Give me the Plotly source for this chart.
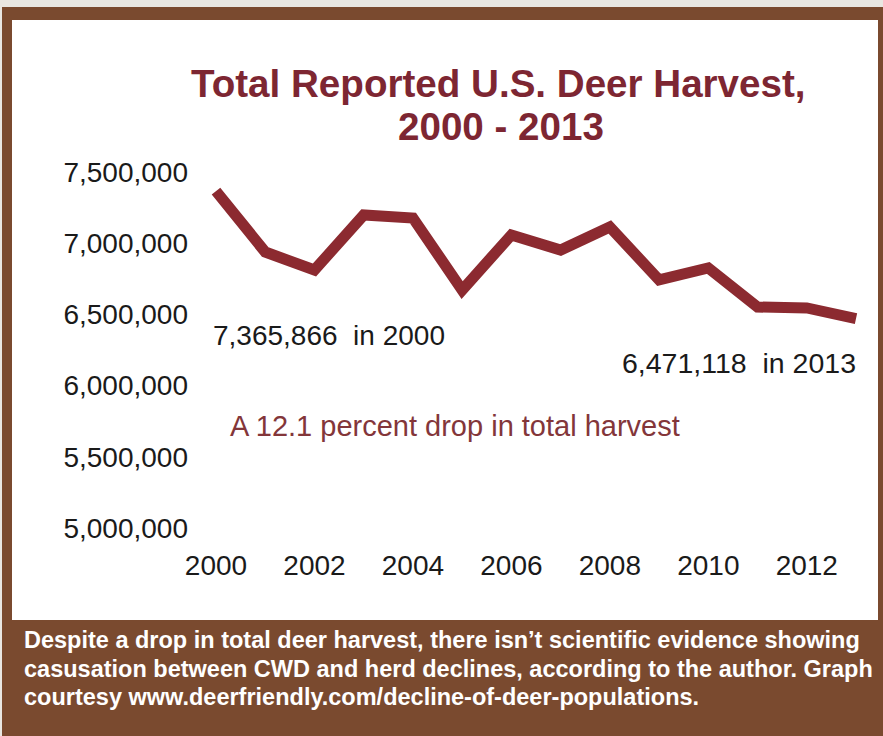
import plotly.graph_objects as go

# ---- data ----
years = list(range(2000, 2014))
harvest = [7365866, 6938000, 6812000, 7198000, 7177000, 6671000, 7058000,
           6952000, 7114000, 6742000, 6826000, 6552000, 6545000, 6471118]
x_ticks = [2000, 2002, 2004, 2006, 2008, 2010, 2012]
y_ticks = [5000000, 5500000, 6000000, 6500000, 7000000, 7500000]

title_line1 = "Total Reported U.S. Deer Harvest,"
title_line2 = "2000 - 2013"
note_start = "7,365,866\u00a0 in 2000"
note_end = "6,471,118\u00a0 in 2013"
note_drop = "A 12.1 percent drop in total harvest"
caption_lines = [
    "Despite a drop in total deer harvest, there isn\u2019t scientific evidence showing",
    "casusation between CWD and herd declines, according to the author. Graph",
    "courtesy www.deerfriendly.com/decline-of-deer-populations.",
]

# ---- layout geometry (pixels) ----
W, H = 883, 736
BROWN = "#7a4a2f"
LINE = "#8c2a30"
TITLE = "#7d2632"
FONT = "Liberation Sans, Arial, sans-serif"

def fx(px):
    return px / W

def fy(py):
    return 1 - py / H

# x: 2000 -> px 216, 2013 -> px 856 ; y: 7.5M -> py 172, 5.0M -> py 528
x_per_px = 13 / (856 - 216)
y_per_px = 2500000 / (528 - 172)
dom_x = (203, 866)
dom_y = (150, 540)
xr = [2000 - (216 - dom_x[0]) * x_per_px, 2013 + (dom_x[1] - 856) * x_per_px]
yr = [5000000 - (dom_y[1] - 528) * y_per_px, 7500000 + (172 - dom_y[0]) * y_per_px]

fig = go.Figure()
fig.add_trace(go.Scatter(
    x=years, y=harvest, mode="lines",
    line=dict(color=LINE, width=11),
    hoverinfo="x+y", showlegend=False,
))

shapes = [
    dict(type="rect", xref="paper", yref="paper", x0=0, x1=1, y0=fy(7), y1=1,
         fillcolor="#e9e7e2", line=dict(width=0), layer="below"),
    dict(type="rect", xref="paper", yref="paper", x0=0, x1=fx(2), y0=0, y1=1,
         fillcolor="#e9e7e2", line=dict(width=0), layer="below"),
    dict(type="rect", xref="paper", yref="paper", x0=fx(12), x1=fx(878),
         y0=fy(620), y1=fy(20), fillcolor="white", line=dict(width=0), layer="below"),
]

annotations = [
    dict(text=title_line1, x=fx(498), y=fy(83), xanchor="center", yanchor="middle",
         font=dict(family=FONT, size=38.6, color=TITLE, weight="bold")),
    dict(text=title_line2, x=fx(501), y=fy(127), xanchor="center", yanchor="middle",
         font=dict(family=FONT, size=38.6, color=TITLE, weight="bold")),
    dict(text=note_start, x=fx(211), y=fy(335), xanchor="left", yanchor="middle",
         font=dict(family=FONT, size=28, color="#1a1a1a")),
    dict(text=note_end, x=fx(858), y=fy(363), xanchor="right", yanchor="middle",
         font=dict(family=FONT, size=28.5, color="#1a1a1a")),
    dict(text=note_drop, x=fx(228), y=fy(426), xanchor="left", yanchor="middle",
         font=dict(family=FONT, size=29, color="#83363a")),
]
for i, line in enumerate(caption_lines):
    annotations.append(dict(
        text=line, x=fx(22), y=fy(640 + i * 28.5), xanchor="left", yanchor="middle",
        font=dict(family=FONT, size=23.5, color="white", weight="bold")))
for a in annotations:
    a.update(xref="paper", yref="paper", showarrow=False)

fig.update_layout(
    width=W, height=H,
    margin=dict(l=0, r=0, t=0, b=0, autoexpand=False),
    paper_bgcolor=BROWN, plot_bgcolor="rgba(0,0,0,0)",
    shapes=shapes, annotations=annotations,
    xaxis=dict(domain=[fx(dom_x[0]), fx(dom_x[1])], range=xr, automargin=False,
               tickvals=x_ticks, showgrid=False, zeroline=False, showline=False,
               ticks="", ticklabelstandoff=6,
               tickfont=dict(family=FONT, size=28, color="#1a1a1a")),
    yaxis=dict(domain=[fy(dom_y[1]), fy(dom_y[0])], range=yr, automargin=False,
               tickvals=y_ticks, tickformat=",d", showgrid=False, zeroline=False,
               showline=False, ticks="", ticklabelstandoff=14,
               tickfont=dict(family=FONT, size=28, color="#1a1a1a")),
)

fig.write_html(
    "out.html",
    config={"displayModeBar": False},
    post_script="document.body.style.margin='0';document.body.style.overflow='hidden';",
)
